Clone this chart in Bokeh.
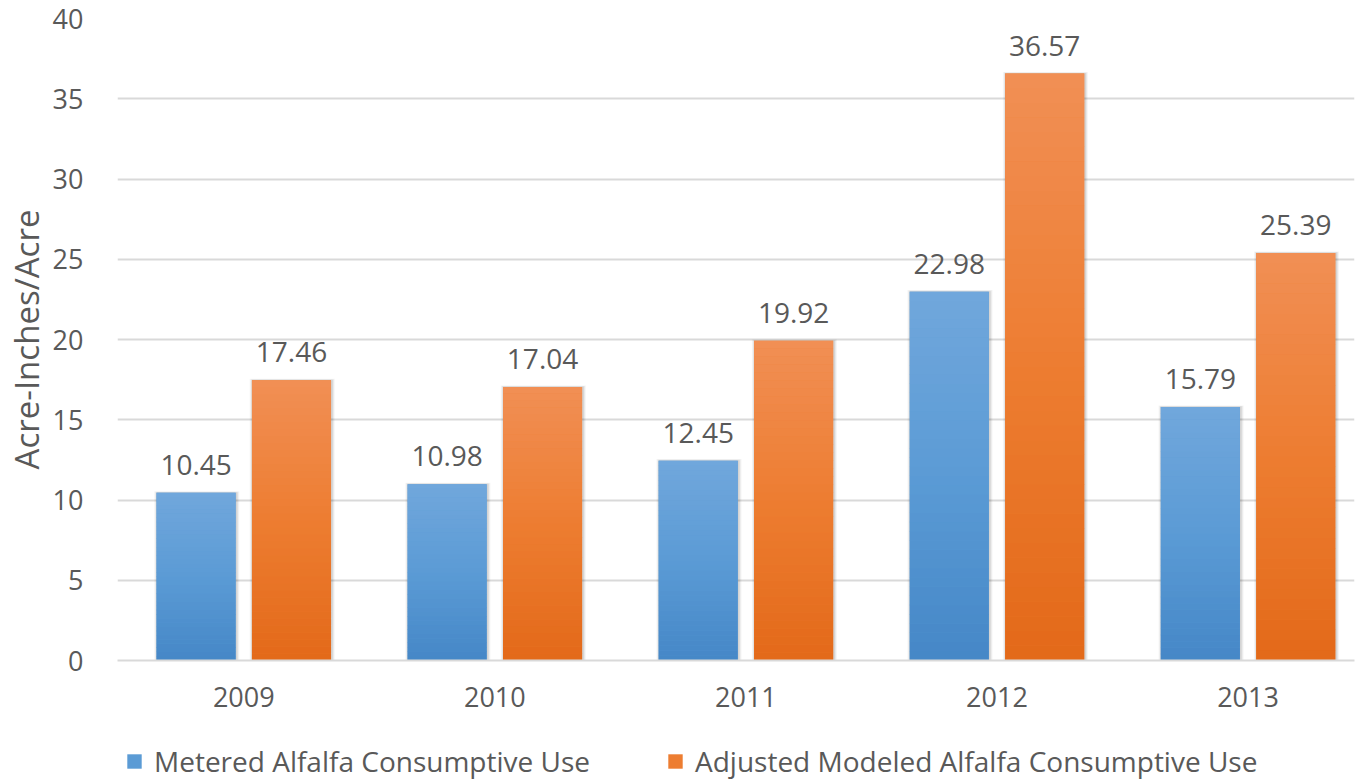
from bokeh.plotting import figure
from bokeh.layouts import column
from bokeh.models import Range1d, FixedTicker, Legend, LegendItem, ColumnDataSource
from bokeh.core.properties import value
from bokeh.embed import file_html
from bokeh.resources import INLINE

years = ["2009", "2010", "2011", "2012", "2013"]
metered = [10.45, 10.98, 12.45, 22.98, 15.79]
modeled = [17.46, 17.04, 19.92, 36.57, 25.39]
series_names = ["Metered Alfalfa Consumptive Use", "Adjusted Modeled Alfalfa Consumptive Use"]
y_ticks = [0, 5, 10, 15, 20, 25, 30, 35, 40]

FONT = "Open Sans"
TXT = "#595959"
GRID = "#d9d9d9"

blue_bottom, blue_mid, blue_top = (0x45, 0x87, 0xc7), (0x5b, 0x9b, 0xd5), (0x71, 0xa7, 0xdc)
orange_bottom, orange_mid, orange_top = (0xe3, 0x69, 0x19), (0xed, 0x7d, 0x31), (0xf1, 0x8f, 0x55)


def hexc(c):
    return "#%02x%02x%02x" % tuple(int(round(v)) for v in c)


def lerp(a, b, t):
    return tuple(a[i] + (b[i] - a[i]) * t for i in range(3))


p = figure(width=1359, height=720, output_backend="svg", toolbar_location=None,
           x_range=Range1d(-0.503, 4.424), y_range=Range1d(0, 40),
           min_border_left=110, min_border_right=5, min_border_top=18, min_border_bottom=60)
p.outline_line_color = None
p.background_fill_color = "white"
p.border_fill_color = "white"

xs = list(range(len(years)))
offset = 0.19
bw = 0.315

legend_items = []
for vals, dx, cb, cm, ct, name in [
    (metered, -offset, blue_bottom, blue_mid, blue_top, series_names[0]),
    (modeled, offset, orange_bottom, orange_mid, orange_top, series_names[1]),
]:
    xpos = [x + dx for x in xs]
    # soft shadow
    for k, (grow, a) in enumerate([(0.024, 0.04), (0.016, 0.06), (0.008, 0.08)]):
        p.vbar(x=[x + 0.003 for x in xpos], top=[v + 0.1 * (3 - k) / 3 for v in vals],
               bottom=-0.1, width=bw + grow, fill_color="#000000", fill_alpha=a, line_color=None)
    p.vbar(x=xpos, top=vals, width=bw, fill_color=hexc(cm), line_color=None)
    legend_items.append((name, hexc(cm)))
    # gradient slices
    N = 40
    sx, sb, st, sc = [], [], [], []
    for x, v in zip(xpos, vals):
        for k in range(N):
            t = (k + 0.5) / N
            sx.append(x)
            sb.append(v * k / N)
            st.append(v * (k + 1) / N + (0.0 if k == N - 1 else 0.02))
            if t < 0.5:
                c = lerp(cb, cm, t / 0.5)
            else:
                c = lerp(cm, ct, (t - 0.5) / 0.5)
            sc.append(hexc(c))
    p.vbar(x=sx, bottom=sb, top=st, width=bw, fill_color=sc, line_color=None)
    # labels
    src = ColumnDataSource(dict(x=xpos, y=vals, t=["%.2f" % v for v in vals]))
    p.text(x="x", y="y", text="t", source=src, text_align="center", text_baseline="bottom",
           y_offset=-18, text_font=value(FONT), text_font_size="28px", text_color=TXT)

# axes
p.xaxis.ticker = FixedTicker(ticks=xs)
p.xaxis.major_label_overrides = {i: y for i, y in enumerate(years)}
p.xaxis.major_tick_line_color = None
p.xaxis.minor_tick_line_color = None
p.xaxis.axis_line_color = GRID
p.xaxis.axis_line_width = 2
p.xaxis.major_label_standoff = 20
p.xaxis.major_label_text_font = FONT
p.xaxis.major_label_text_font_size = "27px"
p.xaxis.major_label_text_color = TXT

p.yaxis.ticker = FixedTicker(ticks=y_ticks)
p.yaxis.major_tick_line_color = None
p.yaxis.minor_tick_line_color = None
p.yaxis.axis_line_color = None
p.yaxis.major_label_standoff = 28
p.yaxis.major_label_text_font = FONT
p.yaxis.major_label_text_font_size = "27px"
p.yaxis.major_label_text_color = TXT
p.yaxis.axis_label = "Acre-Inches/Acre"
p.yaxis.axis_label_text_font = FONT
p.yaxis.axis_label_text_font_size = "33px"
p.yaxis.axis_label_text_font_style = "normal"
p.yaxis.axis_label_text_color = TXT
p.yaxis.axis_label_standoff = 1

p.xgrid.grid_line_color = None
p.ygrid.grid_line_color = GRID
p.ygrid.grid_line_width = 2
p.ygrid.ticker = FixedTicker(ticks=y_ticks)

# legend in its own strip below the chart
lg = figure(width=1359, height=60, output_backend="svg", toolbar_location=None,
            x_range=Range1d(0, 1), y_range=Range1d(0, 1),
            min_border=0, outline_line_color=None)
lg.axis.visible = False
lg.grid.visible = False
items = []
for name, col in legend_items:
    r = lg.vbar(x=[-5], top=[0], width=0.1, fill_color=col, line_color=None)
    items.append(LegendItem(label=name, renderers=[r]))
legend = Legend(items=items, orientation="horizontal", location=(8, 0),
                label_text_font=FONT, label_text_font_size="28px", label_text_color=TXT,
                glyph_width=18, glyph_height=18, spacing=76, label_standoff=11,
                border_line_color=None, background_fill_alpha=0, padding=0, margin=0)
lg.add_layout(legend, "center")

layout = column(p, lg, spacing=0)
open("out.html", "w").write(file_html(layout, INLINE))
